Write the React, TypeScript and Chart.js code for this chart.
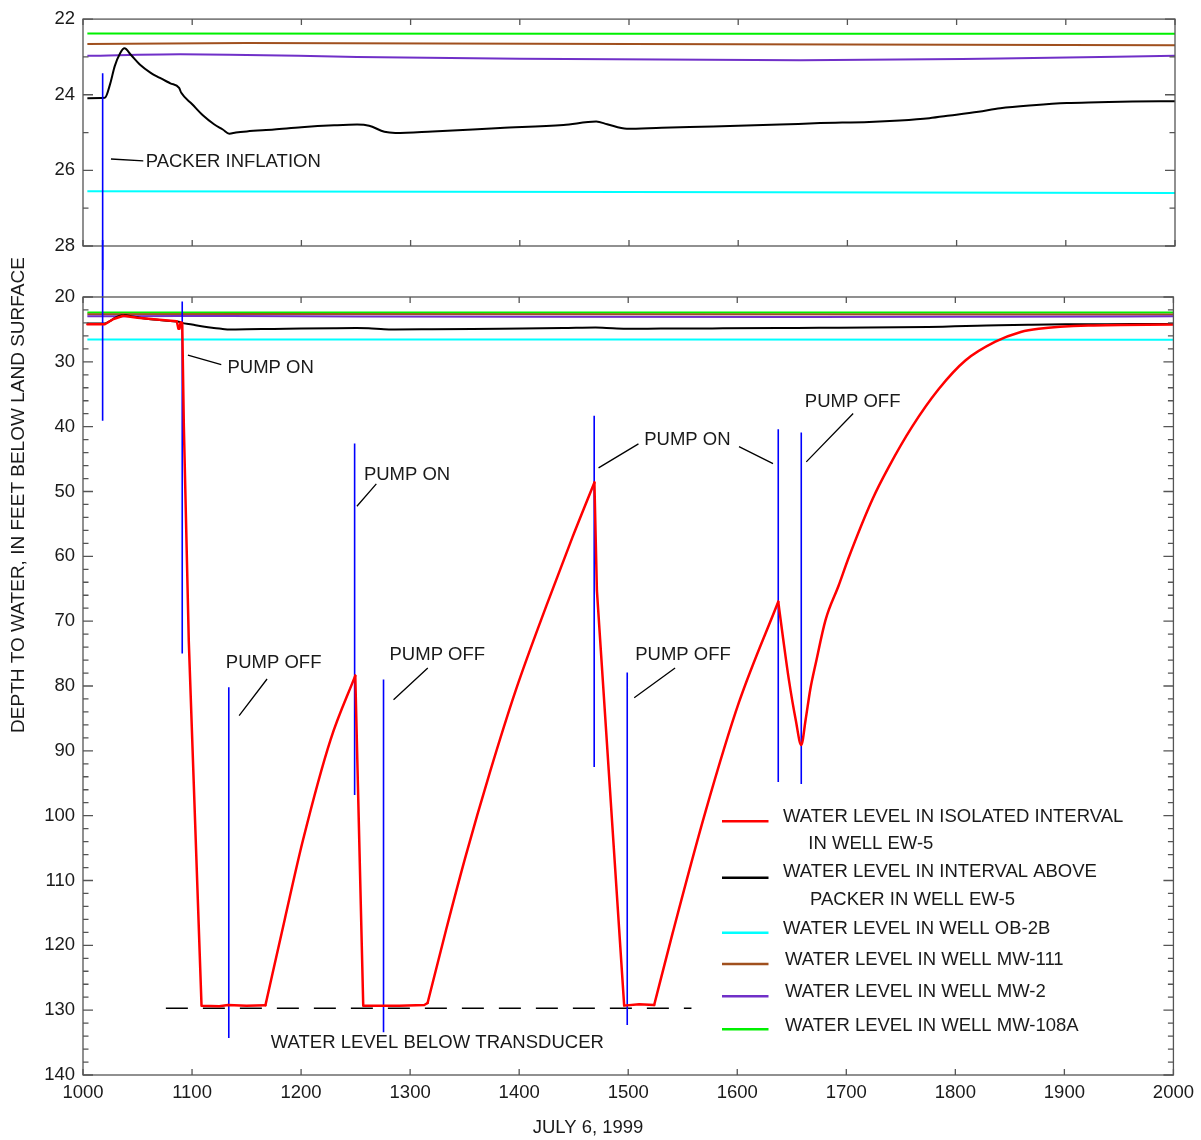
import React, { useEffect, useRef } from "react";
import { Chart, registerables } from "chart.js";

Chart.register(...registerables);

const FONT_FAMILY = '"Liberation Sans", Arial, Helvetica, sans-serif';
const FONT_SIZE = 18.5;
const TEXT_COLOR = "#1a1a1a";

// ---------- axes ----------
const X_TICKS = [1000, 1100, 1200, 1300, 1400, 1500, 1600, 1700, 1800, 1900, 2000];
const TOP_Y_TICKS = [22, 24, 26, 28];
const BOTTOM_Y_TICKS = [20, 30, 40, 50, 60, 70, 80, 90, 100, 110, 120, 130, 140];
const X_TITLE = "JULY 6, 1999";
const Y_TITLE = "DEPTH TO WATER, IN FEET BELOW LAND SURFACE";

// ---------- colours ----------
const RED = "#ff0000";
const BLACK = "#000000";
const CYAN = "#00ffff";
const BROWN = "#a0501e";
const PURPLE = "#7030c8";
const GREEN = "#00f000";
const BLUE = "#0000ff";

// ---------- series ----------
// Water level in isolated interval in well EW-5
const RED_X = [1004, 1020, 1028, 1037, 1050, 1070, 1086, 1087.5, 1088.5, 1089.5, 1091, 1092.5, 1097, 1108.7, 1125, 1133, 1150, 1167.3, 1185, 1201.7, 1227, 1249.7, 1257, 1290, 1313, 1316, 1333, 1351, 1373, 1397, 1425, 1449, 1469, 1471.3, 1496.3, 1510, 1523.8, 1540.6, 1571, 1601.6, 1637.6, 1642, 1647.4, 1653.6, 1658.7, 1662.7, 1667, 1672, 1681, 1693, 1702.4, 1723.7, 1739, 1760.4, 1784.8, 1809.2, 1836.7, 1860, 1876.4, 1922, 2000];
const RED_Y = [24.2, 24.2, 23.4, 22.9, 23.2, 23.5, 23.75, 24.9, 24.9, 23.9, 24.0, 40, 73, 129.3, 129.4, 129.2, 129.3, 129.25, 116, 103.8, 88.3, 78.4, 129.3, 129.3, 129.2, 128.9, 117.6, 106.2, 93.4, 80.6, 67.6, 57.0, 48.6, 65.3, 129.3, 129.1, 129.2, 118.2, 99.3, 82.5, 67.0, 72.6, 79.1, 85.2, 89.1, 85.2, 80.5, 76.5, 69.8, 64.5, 60.1, 51.3, 46.2, 40.0, 34.2, 29.8, 26.9, 25.4, 24.9, 24.4, 24.25];
// stretches of the red trace that are smooth curves (drawn with monotone interpolation)
const RED_CURVED = [[1167.3, 1249.7], [1316, 1469], [1523.8, 1637.6], [1637.6, 2000]];

// Water level in interval above packer in well EW-5
const BLACK_X = [1004, 1020, 1025, 1029, 1034, 1038, 1044, 1052, 1062, 1070, 1080, 1088, 1090, 1100, 1110, 1120, 1128, 1134, 1140, 1150, 1175, 1200, 1230, 1251, 1262, 1276, 1286, 1320, 1382, 1440, 1470, 1480, 1498, 1530, 1577, 1638, 1675, 1720, 1748, 1775, 1794, 1820, 1840, 1870, 1901, 1930, 1961, 2000];
const BLACK_Y = [24.09, 24.08, 23.7, 23.25, 22.9, 22.77, 22.95, 23.2, 23.42, 23.55, 23.7, 23.82, 23.95, 24.25, 24.55, 24.78, 24.92, 25.03, 25.0, 24.97, 24.92, 24.86, 24.81, 24.79, 24.82, 24.98, 25.01, 24.97, 24.88, 24.8, 24.71, 24.78, 24.9, 24.87, 24.84, 24.79, 24.75, 24.72, 24.68, 24.62, 24.55, 24.45, 24.36, 24.28, 24.22, 24.2, 24.18, 24.17];

const CYAN_X = [1004, 1500, 2000];
const CYAN_Y = [26.55, 26.57, 26.6];

const BROWN_X = [1004, 1150, 1500, 2000];
const BROWN_Y = [22.66, 22.63, 22.66, 22.69];

const PURPLE_X = [1004, 1089, 1134, 1251, 1400, 1657, 1840, 2000];
const PURPLE_Y = [22.97, 22.93, 22.94, 23.0, 23.05, 23.09, 23.04, 22.97];

const GREEN_X = [1004, 1500, 2000];
const GREEN_Y = [22.38, 22.39, 22.39];

// Water level below transducer (dashed)
const TRANSDUCER_X = [1076, 1558];
const TRANSDUCER_Y = [129.7, 129.7];

// Blue event markers (lower panel, depth units). First one continues up into the upper panel.
const EVENT_X = [1018, 1091, 1133.7, 1249.1, 1275.6, 1468.8, 1499.1, 1637.6, 1658.7];
const EVENT_FROM = [0, 20.7, 80.2, 42.6, 79.0, 38.3, 77.9, 40.4, 40.9];
const EVENT_TO = [39.1, 75.0, 134.3, 96.8, 133.4, 92.5, 132.3, 94.8, 95.1];
// Packer-inflation marker in the upper panel (runs down into the lower panel)
const PACKER_X = 1018;
const PACKER_FROM = 23.43;
const PACKER_TO = 30;

// ---------- annotations ----------
const TOP_TEXT = ["PACKER INFLATION"];
const TOP_TEXT_X = [1057.4];
const TOP_TEXT_Y = [25.78];
const TOP_LEADERS = [[1025.6, 25.70, 1055.2, 25.75]];

const ANNOT_TEXT = ["PUMP ON", "PUMP OFF", "PUMP ON", "PUMP OFF", "PUMP ON", "PUMP OFF", "PUMP OFF", "WATER LEVEL BELOW TRANSDUCER"];
const ANNOT_X = [1132.5, 1131, 1257.6, 1281.1, 1514.7, 1506.4, 1662, 1172.2];
const ANNOT_Y = [30.93, 76.45, 47.39, 75.28, 41.99, 75.17, 36.17, 135.05];
const LEADERS = [
  [1096.2, 28.98, 1126.8, 30.42],
  [1143.2, 84.58, 1168.8, 78.92],
  [1251.2, 52.28, 1269.0, 48.83],
  [1284.8, 82.11, 1316.2, 77.22],
  [1472.8, 46.36, 1509.4, 42.65],
  [1601.6, 43.07, 1632.8, 45.69],
  [1505.5, 81.8, 1543.0, 77.22],
  [1663.3, 45.43, 1706.3, 37.98],
];

// ---------- legend ----------
const LEGEND_LABELS = [
  ["WATER LEVEL IN ISOLATED INTERVAL", "IN WELL EW-5"],
  ["WATER LEVEL IN INTERVAL ABOVE", "PACKER IN WELL EW-5"],
  ["WATER LEVEL IN WELL OB-2B"],
  ["WATER LEVEL IN WELL MW-111"],
  ["WATER LEVEL IN WELL MW-2"],
  ["WATER LEVEL IN WELL MW-108A"],
];
const LEGEND_COLORS = [RED, BLACK, CYAN, BROWN, PURPLE, GREEN];
// layout offsets relative to the lower plot area's top-left corner
const LEGEND_SAMPLE_Y = [524.3, 580.7, 635.7, 667, 699.3, 732.3];
const LEGEND_TEXT_Y = [519.7, 575, 632.3, 663, 695.3, 728.7];
const LEGEND_TEXT_X = [700, 700, 700, 702, 702, 702];
const LEGEND_LINE2 = [[725.3, 547.3], [727, 603]];

// ---------- helpers ----------
const zip = (xs: number[], ys: (number | null)[]) => xs.map((x, i) => ({ x, y: ys[i] }));

const lineDs = (label: string, data: any[], color: string, width: number, extra: any = {}) => ({
  label,
  data,
  borderColor: color,
  backgroundColor: color,
  borderWidth: width,
  pointRadius: 0,
  tension: 0,
  fill: false,
  ...extra,
});

function redDatasets() {
  const pts = zip(RED_X, RED_Y);
  const bounds = Array.from(new Set([RED_X[0], ...RED_CURVED.flat(), RED_X[RED_X.length - 1]])).sort((a, b) => a - b);
  const out: any[] = [];
  for (let i = 0; i < bounds.length - 1; i++) {
    const a = bounds[i];
    const b = bounds[i + 1];
    const piece = pts.filter((p) => p.x >= a && p.x <= b);
    const curved = RED_CURVED.some(([c0, c1]) => c0 === a && c1 === b);
    out.push(
      lineDs("EW-5 isolated interval", piece, RED, 2.5, {
        cubicInterpolationMode: curved ? "monotone" : "default",
        borderCapStyle: "round",
        borderJoinStyle: "round",
      })
    );
  }
  return out;
}

const tickFont = { family: FONT_FAMILY, size: FONT_SIZE };

const yScale = (min: number, max: number, ticks: number[]) => ({
  type: "linear",
  reverse: true,
  min,
  max,
  afterBuildTicks: (s: any) => {
    s.ticks = ticks.map((v) => ({ value: v }));
  },
  afterFit: (s: any) => {
    s.width = 83;
  },
  grid: { display: false, drawTicks: false },
  border: { display: false },
  ticks: { padding: 8, color: TEXT_COLOR, font: tickFont, autoSkip: false, callback: (v: any) => String(v) },
});

function framePlugin(yMajor: number[], yMinorStep: number) {
  return {
    id: "frame",
    afterDatasetsDraw(chart: any) {
      const { ctx, chartArea: ca, scales } = chart;
      const xs = scales.x;
      const ys = scales.y;
      ctx.save();
      ctx.lineWidth = 1.3;
      ctx.strokeStyle = "#555555";
      ctx.strokeRect(ca.left, ca.top, ca.right - ca.left, ca.bottom - ca.top);
      ctx.beginPath();
      X_TICKS.forEach((v) => {
        const p = xs.getPixelForValue(v);
        ctx.moveTo(p, ca.bottom);
        ctx.lineTo(p, ca.bottom - 6);
        ctx.moveTo(p, ca.top);
        ctx.lineTo(p, ca.top + 6);
      });
      for (let v = ys.min; v <= ys.max + 1e-6; v += yMinorStep) {
        const major = yMajor.some((m) => Math.abs(m - v) < 1e-6);
        const len = major ? 10 : 5.5;
        const p = ys.getPixelForValue(v);
        ctx.moveTo(ca.left, p);
        ctx.lineTo(ca.left + len, p);
        ctx.moveTo(ca.right, p);
        ctx.lineTo(ca.right - len, p);
      }
      ctx.stroke();
      ctx.restore();
    },
  };
}

function drawTextsAndLeaders(chart: any, texts: string[], tx: number[], ty: number[], leaders: number[][]) {
  const { ctx, scales } = chart;
  const xs = scales.x;
  const ys = scales.y;
  ctx.save();
  ctx.strokeStyle = "#000";
  ctx.lineWidth = 1.3;
  ctx.beginPath();
  leaders.forEach(([x1, y1, x2, y2]) => {
    ctx.moveTo(xs.getPixelForValue(x1), ys.getPixelForValue(y1));
    ctx.lineTo(xs.getPixelForValue(x2), ys.getPixelForValue(y2));
  });
  ctx.stroke();
  ctx.font = `${FONT_SIZE}px ${FONT_FAMILY}`;
  ctx.fillStyle = TEXT_COLOR;
  ctx.textAlign = "left";
  ctx.textBaseline = "middle";
  texts.forEach((t, i) => ctx.fillText(t, xs.getPixelForValue(tx[i]), ys.getPixelForValue(ty[i])));
  ctx.restore();
}

const topDecor = {
  id: "topDecor",
  afterDatasetsDraw(chart: any) {
    drawTextsAndLeaders(chart, TOP_TEXT, TOP_TEXT_X, TOP_TEXT_Y, TOP_LEADERS);
  },
};

const bottomDecor = {
  id: "bottomDecor",
  afterDatasetsDraw(chart: any) {
    drawTextsAndLeaders(chart, ANNOT_TEXT, ANNOT_X, ANNOT_Y, LEADERS);
    const { ctx, chartArea: ca } = chart;
    ctx.save();
    // legend
    LEGEND_LABELS.forEach((lines, i) => {
      ctx.strokeStyle = LEGEND_COLORS[i];
      ctx.lineWidth = 2.5;
      ctx.beginPath();
      ctx.moveTo(ca.left + 639, ca.top + LEGEND_SAMPLE_Y[i]);
      ctx.lineTo(ca.left + 685.5, ca.top + LEGEND_SAMPLE_Y[i]);
      ctx.stroke();
    });
    ctx.font = `${FONT_SIZE}px ${FONT_FAMILY}`;
    ctx.fillStyle = TEXT_COLOR;
    ctx.textAlign = "left";
    ctx.textBaseline = "middle";
    LEGEND_LABELS.forEach((lines, i) => {
      ctx.fillText(lines[0], ca.left + LEGEND_TEXT_X[i], ca.top + LEGEND_TEXT_Y[i]);
      if (lines[1]) {
        const [lx, ly] = LEGEND_LINE2[i];
        ctx.fillText(lines[1], ca.left + lx, ca.top + ly);
      }
    });
    // axis titles
    ctx.textAlign = "center";
    ctx.fillText(X_TITLE, ca.left + 505, ca.bottom + 53);
    ctx.font = `19px ${FONT_FAMILY}`;
    ctx.translate(ca.left - 64, ca.top + 198);
    ctx.rotate(-Math.PI / 2);
    ctx.fillText(Y_TITLE, 0, 0);
    ctx.restore();
  },
};

function eventData(xs: number[], from: number[], to: number[]) {
  const out: any[] = [];
  xs.forEach((x, i) => {
    out.push({ x, y: from[i] }, { x, y: to[i] }, { x, y: null });
  });
  return out;
}

function topConfig(): any {
  return {
    type: "line",
    data: {
      datasets: [
        lineDs("packer", zip([PACKER_X, PACKER_X], [PACKER_FROM, PACKER_TO]), BLUE, 1.6, { clip: false }),
        lineDs("EW-5 above packer", zip(BLACK_X, BLACK_Y), BLACK, 2, { cubicInterpolationMode: "monotone" }),
        lineDs("MW-2", zip(PURPLE_X, PURPLE_Y), PURPLE, 2, { cubicInterpolationMode: "monotone" }),
        lineDs("MW-111", zip(BROWN_X, BROWN_Y), BROWN, 2),
        lineDs("MW-108A", zip(GREEN_X, GREEN_Y), GREEN, 2),
        lineDs("OB-2B", zip(CYAN_X, CYAN_Y), CYAN, 2),
      ],
    },
    options: {
      responsive: false,
      animation: false,
      events: [],
      layout: { padding: { top: 15, right: 26, bottom: 24, left: 0 } },
      scales: {
        x: { type: "linear", min: 1000, max: 2000, display: false },
        y: yScale(22, 28, TOP_Y_TICKS),
      },
      plugins: { legend: { display: false }, tooltip: { enabled: false } },
    },
    plugins: [framePlugin(TOP_Y_TICKS, 1), topDecor],
  };
}

function bottomConfig(): any {
  return {
    type: "line",
    data: {
      datasets: [
        ...redDatasets(),
        lineDs("events", eventData(EVENT_X, EVENT_FROM, EVENT_TO), BLUE, 1.6, { clip: false, spanGaps: false }),
        lineDs("transducer", zip(TRANSDUCER_X, TRANSDUCER_Y), BLACK, 1.6, { borderDash: [22, 15] }),
        lineDs("EW-5 above packer", zip(BLACK_X, BLACK_Y), BLACK, 2, { cubicInterpolationMode: "monotone" }),
        lineDs("MW-2", zip(PURPLE_X, PURPLE_Y), PURPLE, 2, { cubicInterpolationMode: "monotone" }),
        lineDs("MW-111", zip(BROWN_X, BROWN_Y), BROWN, 2),
        lineDs("MW-108A", zip(GREEN_X, GREEN_Y), GREEN, 2),
        lineDs("OB-2B", zip(CYAN_X, CYAN_Y), CYAN, 2),
      ],
    },
    options: {
      responsive: false,
      animation: false,
      events: [],
      layout: { padding: { top: 57, right: 26, bottom: 0, left: 0 } },
      scales: {
        x: {
          type: "linear",
          min: 1000,
          max: 2000,
          position: "bottom",
          afterBuildTicks: (s: any) => {
            s.ticks = X_TICKS.map((v) => ({ value: v }));
          },
          afterFit: (s: any) => {
            s.height = 65;
          },
          grid: { display: false, drawTicks: false },
          border: { display: false },
          ticks: { padding: 7, maxRotation: 0, autoSkip: false, color: TEXT_COLOR, font: tickFont, callback: (v: any) => String(v) },
        },
        y: yScale(20, 140, BOTTOM_Y_TICKS),
      },
      plugins: { legend: { display: false }, tooltip: { enabled: false } },
    },
    plugins: [framePlugin(BOTTOM_Y_TICKS, 2), bottomDecor],
  };
}

export default function App() {
  const topRef = useRef<HTMLCanvasElement>(null);
  const botRef = useRef<HTMLCanvasElement>(null);

  useEffect(() => {
    Chart.defaults.font.family = FONT_FAMILY;
    const top = new Chart(topRef.current as HTMLCanvasElement, topConfig());
    const bot = new Chart(botRef.current as HTMLCanvasElement, bottomConfig());
    return () => {
      top.destroy();
      bot.destroy();
    };
  }, []);

  return (
    <div style={{ position: "absolute", left: 0, top: 0, width: 1201, height: 1140, background: "#ffffff" }}>
      <canvas
        ref={topRef}
        width={1201}
        height={270}
        style={{ position: "absolute", left: 0, top: 0, width: 1201, height: 270 }}
      />
      <canvas
        ref={botRef}
        width={1201}
        height={900}
        style={{ position: "absolute", left: 0, top: 240, width: 1201, height: 900 }}
      />
    </div>
  );
}
